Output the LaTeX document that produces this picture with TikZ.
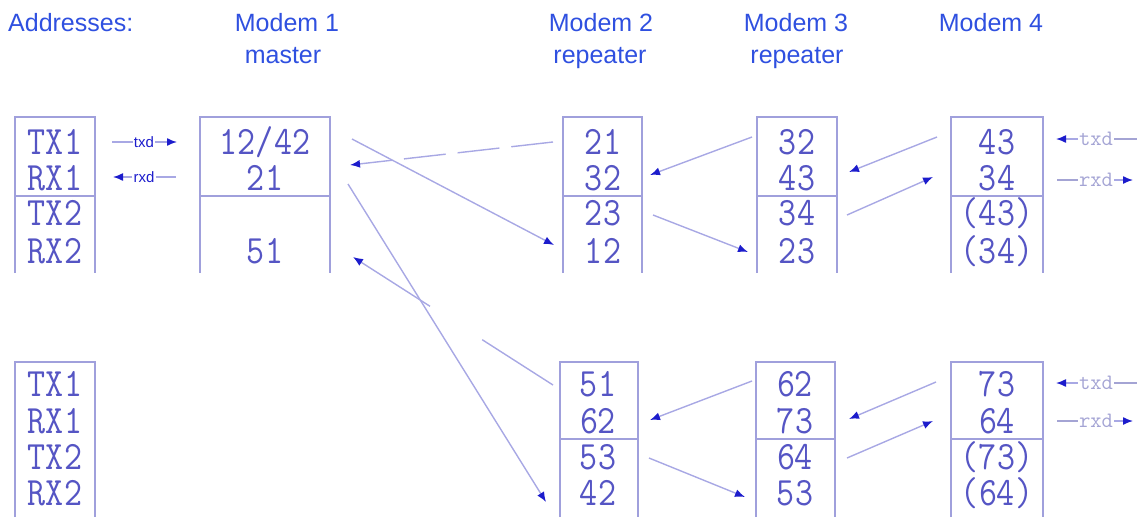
\documentclass[tikz,border=0pt]{standalone}
\usepackage{fontspec}
\usepackage{graphicx}
\setmainfont{Liberation Sans}
\usetikzlibrary{arrows.meta}
\definecolor{txtblue}{HTML}{5555C4}
\definecolor{headblue}{HTML}{2F50E0}
\definecolor{boxline}{HTML}{A0A0DC}
\definecolor{arrline}{HTML}{A8A8E4}
\definecolor{tipblue}{HTML}{1C1CCC}
\definecolor{lightlbl}{HTML}{A4A4D4}
\newcommand{\mtext}[1]{\scalebox{1}[1.15]{#1}}
\begin{document}
\begin{tikzpicture}[x=1pt,y=-1pt,
  cell/.style={anchor=base, text=txtblue, font=\fontsize{35}{40}\ttfamily, inner sep=0pt},
  head/.style={anchor=base, text=headblue, font=\fontsize{25}{30}\selectfont, inner sep=0pt},
  boxl/.style={draw=boxline, line width=1.5pt},
  conn/.style={draw=arrline, line width=1.4pt, -{Latex[length=10pt,width=8pt,color=tipblue]}},
  plain/.style={draw=arrline, line width=1.4pt},
  lblL/.style={text=tipblue, font=\fontsize{15}{18}\selectfont, inner sep=1pt},
  lblR/.style={text=lightlbl, font=\fontsize{22}{24}\ttfamily, inner sep=1pt},
]
\useasboundingbox (0,0) rectangle (1139,517);

% headers
\node[head, anchor=base west] (hAddr) at (8,31) {Addresses:};
\node[head] (hM1) at (287,31) {Modem 1};
\node[head] (hM1b) at (283,63) {master};
\node[head] (hM2) at (601,31) {Modem 2};
\node[head] (hM2b) at (600,63) {repeater};
\node[head] (hM3) at (796,31) {Modem 3};
\node[head] (hM3b) at (797,63) {repeater};
\node[head] (hM4) at (991,31) {Modem 4};

% boxes (top row)
\foreach \xa/\xb in {15/95, 200/330, 563/642, 757/837, 951/1043} {
  \draw[boxl] (\xa,273) -- (\xa,117) -- (\xb,117) -- (\xb,273);
  \draw[boxl] (\xa,196) -- (\xb,196);
}
% boxes (bottom row)
\draw[boxl] (15,517) -- (15,362) -- (95,362) -- (95,517);
\foreach \xa/\xb in {560/638, 756/835, 951/1043} {
  \draw[boxl] (\xa,517) -- (\xa,362) -- (\xb,362) -- (\xb,517);
  \draw[boxl] (\xa,439) -- (\xb,439);
}

% top row texts
\node[cell] (aTX1) at (55,154) {\mtext{TX1}};
\node[cell] (aRX1) at (55,190) {\mtext{RX1}};
\node[cell] (aTX2) at (55,225) {\mtext{TX2}};
\node[cell] (aRX2) at (55,263) {\mtext{RX2}};

\node[cell] (m1a) at (265,154) {\mtext{12/42}};
\node[cell] (m1b) at (265,190) {\mtext{21}};
\node[cell] (m1d) at (265,263) {\mtext{51}};

\node[cell] (m2a) at (603,154) {\mtext{21}};
\node[cell] (m2b) at (603,190) {\mtext{32}};
\node[cell] (m2c) at (603,225) {\mtext{23}};
\node[cell] (m2d) at (603,263) {\mtext{12}};

\node[cell] (m3a) at (797,154) {\mtext{32}};
\node[cell] (m3b) at (797,190) {\mtext{43}};
\node[cell] (m3c) at (797,225) {\mtext{34}};
\node[cell] (m3d) at (797,263) {\mtext{23}};

\node[cell] (m4a) at (997,154) {\mtext{43}};
\node[cell] (m4b) at (997,190) {\mtext{34}};
\node[cell] (m4c) at (997,225) {\mtext{(43)}};
\node[cell] (m4d) at (997,263) {\mtext{(34)}};

% bottom row texts
\node[cell] (bTX1) at (55,396) {\mtext{TX1}};
\node[cell] (bRX1) at (55,433) {\mtext{RX1}};
\node[cell] (bTX2) at (55,469) {\mtext{TX2}};
\node[cell] (bRX2) at (55,505) {\mtext{RX2}};

\node[cell] (n2a) at (598,396) {\mtext{51}};
\node[cell] (n2b) at (598,433) {\mtext{62}};
\node[cell] (n2c) at (598,469) {\mtext{53}};
\node[cell] (n2d) at (598,505) {\mtext{42}};

\node[cell] (n3a) at (795,396) {\mtext{62}};
\node[cell] (n3b) at (795,433) {\mtext{73}};
\node[cell] (n3c) at (795,469) {\mtext{64}};
\node[cell] (n3d) at (795,505) {\mtext{53}};

\node[cell] (n4a) at (997,396) {\mtext{73}};
\node[cell] (n4b) at (997,433) {\mtext{64}};
\node[cell] (n4c) at (997,469) {\mtext{(73)}};
\node[cell] (n4d) at (997,505) {\mtext{(64)}};

% connector end points
\coordinate (p1s) at (553,142); \coordinate (p1e) at (350,165);
\coordinate (p2s) at (352,139); \coordinate (p2e) at (554,245);
\coordinate (p3s) at (348,184); \coordinate (p3e) at (546,502);
\coordinate (p4s) at (553,385); \coordinate (p4e) at (353,257);
\coordinate (p5s) at (752,137); \coordinate (p5e) at (650,175);
\coordinate (p6s) at (653,215); \coordinate (p6e) at (748,252);
\coordinate (p7s) at (937,137); \coordinate (p7e) at (849,172);
\coordinate (p8s) at (847,215); \coordinate (p8e) at (933,177);
\coordinate (q5s) at (752,381); \coordinate (q5e) at (650,420);
\coordinate (q6s) at (649,458); \coordinate (q6e) at (745,497);
\coordinate (q7s) at (936,382); \coordinate (q7e) at (849,419);
\coordinate (q8s) at (847,458); \coordinate (q8e) at (933,421);

\draw[conn, dash pattern=on 42pt off 12pt] (p1s) -- (p1e);
\draw[conn] (p2s) -- (p2e);
\draw[conn] (p3s) -- (p3e);
\draw[conn, dash pattern=on 84pt off 62pt] (p4s) -- (p4e);
\draw[conn] (p5s) -- (p5e);
\draw[conn] (p6s) -- (p6e);
\draw[conn] (p7s) -- (p7e);
\draw[conn] (p8s) -- (p8e);
\draw[conn] (q5s) -- (q5e);
\draw[conn] (q6s) -- (q6e);
\draw[conn] (q7s) -- (q7e);
\draw[conn] (q8s) -- (q8e);

% left txd / rxd labels
\node[lblL] (ltxd) at (144,142) {txd};
\node[lblL] (lrxd) at (144,177) {rxd};
\coordinate (ltxdA) at (112,142); \coordinate (ltxdB) at (177,142);
\coordinate (lrxdA) at (113,177); \coordinate (lrxdB) at (176,177);
\draw[plain] (ltxdA) -- (ltxd.west);
\draw[conn] (ltxd.east) -- (ltxdB);
\draw[conn] (lrxd.west) -- (lrxdA);
\draw[plain] (lrxd.east) -- (lrxdB);

% right txd / rxd labels (top and bottom)
\foreach \ty/\ry/\nm in {139/180/t, 383/421/b} {
  \node[lblR] (rtxd\nm) at (1096,\ty) {txd};
  \node[lblR] (rrxd\nm) at (1096,\ry) {rxd};
  \coordinate (rtxdA\nm) at (1056,\ty); \coordinate (rtxdB\nm) at (1137,\ty);
  \coordinate (rrxdA\nm) at (1057,\ry); \coordinate (rrxdB\nm) at (1133,\ry);
  \draw[conn] (rtxd\nm.west) -- (rtxdA\nm);
  \draw[draw=lightlbl, line width=1.4pt] (rtxd\nm.east) -- (rtxdB\nm);
  \draw[draw=lightlbl, line width=1.4pt] (rrxdA\nm) -- (rrxd\nm.west);
  \draw[conn] (rrxd\nm.east) -- (rrxdB\nm);
}
\end{tikzpicture}
\end{document}
